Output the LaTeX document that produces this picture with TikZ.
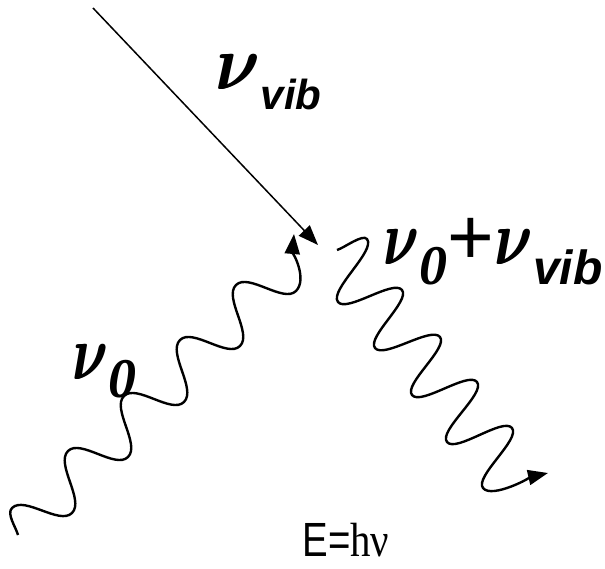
\documentclass[tikz,border=0pt]{standalone}
\usepackage{amsmath}
\usepackage{graphicx}
\usepackage{fontspec}
\usepackage{tikz}
\usetikzlibrary{arrows.meta}
\newfontfamily\grkfont{Liberation Serif}
\newfontfamily\labelsans{Liberation Sans}
% pogrubione, skalowane nu
\newcommand{\nusym}[2]{\makebox[0pt][l]{\scalebox{#1}[#2]{$\boldsymbol{\nu}$}}%
  \kern0.7pt\scalebox{#1}[#2]{$\boldsymbol{\nu}$}}
\newcommand{\zerofont}{\fontsize{28}{28}\selectfont\grkfont\bfseries\itshape}
\newcommand{\vibfont}[1]{\fontsize{#1}{#1}\selectfont\labelsans\bfseries\itshape}

\begin{document}
\begin{tikzpicture}[
  x=0.5pt, y=0.5pt,
  photon/.style={line width=1.2pt, line join=round,
    -{Triangle[length=10pt,width=7.5pt]}},
  ray/.style={line width=0.75pt, -{Triangle[length=10pt,width=7.5pt]}},
  lbl/.style={anchor=base west, inner sep=0pt}
]
\useasboundingbox (0,0) rectangle (605,568);

% --- Punkty koncowe ---
\coordinate (rayS) at (93,560);
\coordinate (rayE) at (318,323);
\coordinate (inS) at (18,33);
\coordinate (inE) at (294,334);
\coordinate (outS) at (337,318);
\coordinate (outE) at (548,95);

% --- Promien padajacy ---
\draw[ray] (rayS) -- (rayE);

% --- Foton padajacy (fala) ---
\draw[photon, looseness=0.75] (inS) to[out=105,in=225] (12,60)
  to[out=45,in=225] (72,55) to[out=45,in=225] (68,117)
  to[out=45,in=225] (128,111) to[out=45,in=225] (124,172)
  to[out=45,in=225] (184,166) to[out=45,in=225] (180,228)
  to[out=45,in=225] (240,222) to[out=45,in=225] (236,283)
  to[out=45,in=225] (296,277) to[out=45,in=265] (inE);

% --- Foton rozproszony (zygzak) ---
\draw[photon, looseness=0.55] (outS) to[out=15,in=128] (367,329)
  to[out=-52,in=128] (338,266) to[out=-52,in=128] (402,278)
  to[out=-52,in=128] (375,220) to[out=-52,in=128] (440,231)
  to[out=-52,in=128] (412,173) to[out=-52,in=128] (477,186)
  to[out=-52,in=128] (447,126) to[out=-52,in=128] (512,140)
  to[out=-52,in=128] (483,80) to[out=-52,in=193] (outE);

% --- Opisy ---
\node[lbl] (nuvib) at (215,478)
  {\nusym{3.4}{3.9}\raisebox{-10pt}{\vibfont{21}vib}};
\node[lbl] (nuzero) at (72,188)
  {\nusym{2.7}{3.9}\raisebox{-9pt}{\zerofont 0}};
\node[lbl] (nusum) at (383,303)
  {\nusym{2.7}{3.9}\raisebox{-10pt}{\zerofont 0}%
   {\labelsans\fontsize{40}{40}\selectfont +}%
   \nusym{2.9}{3.9}\raisebox{-10pt}{\vibfont{24}vib}};
\node[lbl] (energy) at (302,12)
  {\scalebox{0.8}[1]{\labelsans\fontsize{24}{24}\selectfont E=}%
   \scalebox{0.85}[1]{\grkfont\fontsize{24}{24}\selectfont hν}};

\end{tikzpicture}
\end{document}
